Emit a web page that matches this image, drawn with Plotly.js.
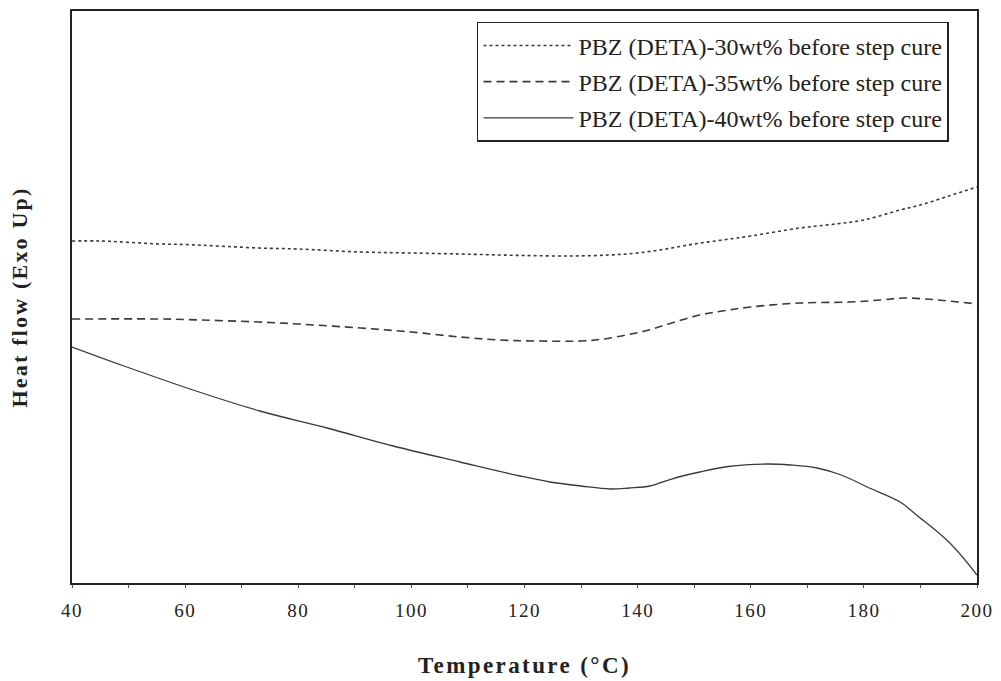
<!DOCTYPE html>
<html>
<head>
<meta charset="utf-8">
<script src="https://cdn.plot.ly/plotly-3.0.1.min.js"></script>
<style>
html,body{margin:0;padding:0;background:#fff;}
#chart{width:1001px;height:681px;}
#chart .xtitle{letter-spacing:2.4px;}
#chart .ytitle{letter-spacing:2.2px;}
#chart .xtick text{letter-spacing:1.5px;}
</style>
</head>
<body>
<div id="chart"></div>
<script>
// Temperature (°C) and heat flow (arbitrary units, Exo Up)
const temp30 = [40, 45, 55.6, 60, 73, 80, 91, 100, 108.6, 115.7, 120, 128, 135, 140, 145, 150, 155, 160, 168.7, 175, 180, 186.4, 190, 195, 200];
const heat30 = [342, 342, 339, 338.5, 335, 334, 331, 330, 329, 328, 327.5, 327, 328, 330, 334, 339, 343, 347, 355, 359, 363, 373, 378, 387, 396];

const temp35 = [40, 55.6, 60, 73, 80, 91, 100, 108.6, 115.7, 122, 130, 134, 138, 142, 146, 151, 155, 160, 168.7, 177.5, 183, 187, 191, 195, 200];
const heat35 = [264, 264, 263.5, 261, 259, 255, 251, 246, 243, 242, 242, 244, 248, 253, 260, 268, 272, 276, 280, 281, 283, 285, 284, 282, 279];

const temp40 = [40, 49.7, 61.4, 73.2, 85.1, 96.8, 108.6, 119.2, 124.5, 130, 135.1, 138.5, 142.2, 146, 151, 156, 162.9, 167, 171.7, 176, 180.6, 186.4, 189.3, 195.2, 200];
const heat40 = [236, 216, 193, 172, 155, 137, 121, 107, 101, 97, 94, 95, 97, 104, 111, 116.5, 119, 118, 115, 108, 96, 81, 68, 40, 8];

const seriesNames = [
  "PBZ (DETA)-30wt% before step cure",
  "PBZ (DETA)-35wt% before step cure",
  "PBZ (DETA)-40wt% before step cure"
];

const serif = "Liberation Serif, Times New Roman, serif";

const traces = [
  {x: temp30, y: heat30, name: seriesNames[0], legendgroup: "a", mode: "lines",
   line: {color: "#3a3a3a", width: 1.6, dash: "dot", shape: "spline"}},
  {x: temp35, y: heat35, name: seriesNames[1], legendgroup: "b", mode: "lines",
   line: {color: "#3a3a3a", width: 1.6, dash: "8px,5px", shape: "spline"}},
  {x: temp40, y: heat40, name: seriesNames[2], legendgroup: "c", mode: "lines",
   line: {color: "#3a3a3a", width: 1.3, shape: "spline"}}
];

const layout = {
  width: 1001, height: 681,
  margin: {l: 72, r: 24, t: 11, b: 98},
  paper_bgcolor: "#fff", plot_bgcolor: "#fff",
  showlegend: true,
  font: {family: serif, color: "#222"},
  xaxis: {
    range: [40, 200], dtick: 20, tick0: 40,
    showgrid: false, zeroline: false,
    showline: true, mirror: true, linecolor: "#222", linewidth: 2,
    ticks: "outside", ticklen: 3, tickcolor: "#555", tickwidth: 1,
    ticklabelstandoff: 6,
    minor: {dtick: 10, ticks: "outside", ticklen: 3, tickcolor: "#555", tickwidth: 1},
    tickfont: {family: serif, size: 19, color: "#222"},
    title: {text: "<b>Temperature (°C)</b>", font: {family: serif, size: 23, color: "#222"}, standoff: 37}
  },
  yaxis: {
    range: [0, 572],
    showgrid: false, zeroline: false, showticklabels: false, ticks: "",
    showline: true, mirror: true, linecolor: "#222", linewidth: 2,
    title: {text: "<b>Heat flow (Exo Up)</b>", font: {family: serif, size: 22, color: "#222"}, standoff: 36}
  },
  legend: {
    x: 0.4475, y: 0.981, xanchor: "left", yanchor: "top",
    bgcolor: "#fff", bordercolor: "#222", borderwidth: 1.5,
    font: {family: serif, size: 24, color: "#222"},
    tracegroupgap: 2,
    itemwidth: 90
  }
};

Plotly.newPlot("chart", traces, layout, {displayModeBar: false, staticPlot: true});
</script>
</body>
</html>
